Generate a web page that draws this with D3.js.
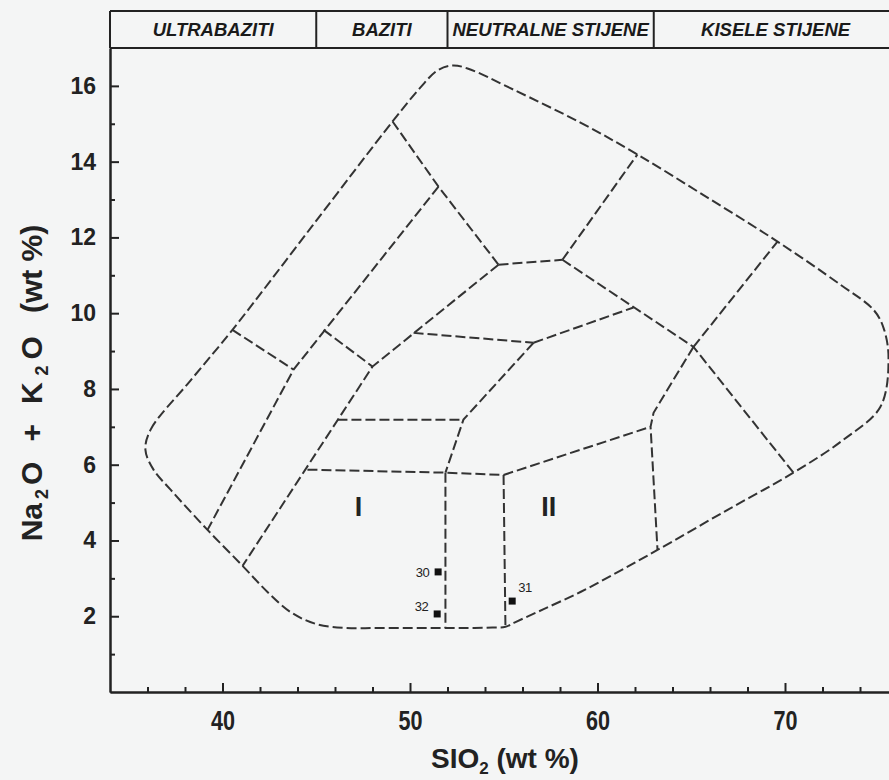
<!DOCTYPE html>
<html>
<head>
<meta charset="utf-8">
<script src="https://cdn.jsdelivr.net/npm/d3@7/dist/d3.min.js"></script>
<style>
	html, body { margin: 0; padding: 0; background: #f4f5f5; }
	svg { display: block; }
	.axis path, .axis line { stroke: #222; stroke-width: 2px; }
	.axis text { fill: #222; font-weight: bold; }
</style>
</head>
<body>
<div id="chart"></div>
<script>
	// axis ticks
	var xTicksMajor = [40, 50, 60, 70];
	var xTicksMinor = [36, 38, 42, 44, 46, 48, 52, 54, 56, 58, 62, 64, 66, 68, 72, 74];
	var yTicksMajor = [2, 4, 6, 8, 10, 12, 14, 16];
	var yTicksMinor = [1, 3, 5, 7, 9, 11, 13, 15];

	// rock groups in the header band (SiO2 limits)
	var groupLimits = [34, 45, 52, 63, 76];
	var groupNames = ["ULTRABAZITI", "BAZITI", "NEUTRALNE STIJENE", "KISELE STIJENE"];

	// outer envelope of the diagram [SiO2, Na2O+K2O]
	var outline = [
		[35.89, 6.39], [36.16, 6.92], [38.29, 8.22], [40.53, 9.56], [44.8, 12.31],
		[49.07, 15.06], [50.56, 15.96], [51.47, 16.41], [52.27, 16.54], [53.07, 16.46],
		[55.52, 15.9], [59.09, 15.03], [62.13, 14.19], [65.87, 13.05], [69.6, 11.89],
		[72.96, 10.75], [74.72, 10.09], [75.25, 9.62], [75.52, 8.82], [75.09, 7.53],
		[73.12, 6.66], [70.45, 5.79], [66.8, 4.77], [63.2, 3.75], [61.2, 3.2],
		[59.09, 2.64], [57.1, 2.18], [55.6, 1.84], [55.09, 1.72], [54.4, 1.7],
		[53.0, 1.69], [51.5, 1.69], [50.0, 1.69], [48.3, 1.69], [46.56, 1.69],
		[44.96, 1.8], [43.63, 2.11], [42.4, 2.64], [41.07, 3.33], [39.2, 4.28],
		[37.23, 5.34], [36.32, 5.87]
	];

	// inner field boundaries
	var boundaries = [
		[[49.07, 15.06], [51.52, 13.34], [54.72, 11.28]],
		[[51.52, 13.34], [43.79, 8.51], [39.2, 4.28]],
		[[40.53, 9.56], [43.79, 8.51]],
		[[54.72, 11.28], [58.13, 11.41]],
		[[58.13, 11.41], [62.13, 14.19]],
		[[58.13, 11.41], [65.12, 9.11], [70.45, 5.79]],
		[[65.12, 9.11], [69.6, 11.89]],
		[[54.72, 11.28], [48.0, 8.59], [41.07, 3.33]],
		[[45.39, 9.56], [48.0, 8.59]],
		[[50.19, 9.48], [56.59, 9.22]],
		[[56.59, 9.22], [61.92, 10.15]],
		[[56.59, 9.22], [52.85, 7.19], [51.89, 5.79]],
		[[46.13, 7.19], [52.85, 7.19]],
		[[44.53, 5.87], [51.89, 5.79], [54.99, 5.73]],
		[[51.89, 5.79], [51.89, 1.69]],
		[[54.99, 5.73], [55.09, 1.72]],
		[[54.99, 5.73], [62.83, 7.0]],
		[[65.12, 9.11], [63.89, 8.11], [62.99, 7.37], [62.83, 7.0], [63.2, 3.75]]
	];

	// field labels
	var fieldNames = ["I", "II"];
	var fieldSiO2 = [47.25, 57.4];
	var fieldAlk = [4.9, 4.9];

	// samples
	var sampleIds = ["30", "31", "32"];
	var sampleSiO2 = [51.5, 55.45, 51.45];
	var sampleAlk = [3.17, 2.4, 2.06];

	var width = 889,
		height = 780;

	var svg = d3.select("#chart")
		.append("svg")
		.attr("width", width)
		.attr("height", height);

	var x = d3.scaleLinear()
		.domain([34, 76])
		.range([110, 897.5]);

	var y = d3.scaleLinear()
		.domain([0, 17])
		.range([692, 48]);

	// header band
	var header = svg.append("g");
	header.append("line")
		.attr("x1", x(34)).attr("x2", x(76))
		.attr("y1", 11).attr("y2", 11);
	header.append("line")
		.attr("x1", x(34)).attr("x2", x(76))
		.attr("y1", 48).attr("y2", 48);
	header.selectAll(".divider")
		.data(groupLimits)
		.enter().append("line")
		.attr("class", "divider")
		.attr("x1", function(d) { return x(d); })
		.attr("x2", function(d) { return x(d); })
		.attr("y1", 11).attr("y2", 48);
	header.selectAll("line")
		.attr("stroke", "#222")
		.attr("stroke-width", 2);

	header.selectAll(".group")
		.data(groupNames)
		.enter().append("text")
		.attr("class", "group")
		.attr("x", function(d, i) { return (x(groupLimits[i]) + x(groupLimits[i + 1])) / 2; })
		.attr("y", 36)
		.attr("text-anchor", "middle")
		.style("font-family", "'Liberation Sans', Arial, sans-serif")
		.style("font-size", "18.5px")
		.style("font-weight", "bold")
		.style("font-style", "italic")
		.style("fill", "#1a1a1a")
		.text(function(d) { return d; });

	// axes (ticks point inwards)
	svg.append("g")
		.attr("class", "axis")
		.attr("transform", "translate(0,692)")
		.call(d3.axisBottom(x).tickValues(xTicksMinor).tickSizeInner(-5).tickSizeOuter(0).tickFormat(""));

	var xAxis = svg.append("g")
		.attr("class", "axis")
		.attr("transform", "translate(0,692)")
		.call(d3.axisBottom(x).tickValues(xTicksMajor).tickSizeInner(-9).tickSizeOuter(0).tickPadding(19));
	xAxis.selectAll("text")
		.attr("transform", "scale(0.8,1)")
		.style("font-family", "'Liberation Sans', Arial, sans-serif")
		.style("font-size", "27px");

	svg.append("g")
		.attr("class", "axis")
		.attr("transform", "translate(110,0)")
		.call(d3.axisLeft(y).tickValues(yTicksMinor).tickSizeInner(-5).tickSizeOuter(0).tickFormat(""));

	var yAxis = svg.append("g")
		.attr("class", "axis")
		.attr("transform", "translate(110,0)")
		.call(d3.axisLeft(y).tickValues(yTicksMajor).tickSizeInner(-9).tickSizeOuter(0).tickPadding(14));
	yAxis.selectAll("text")
		.style("font-family", "'Liberation Sans', Arial, sans-serif")
		.style("font-size", "23px");

	// axis titles
	var xTitle = svg.append("text")
		.attr("x", 505)
		.attr("y", 768)
		.attr("text-anchor", "middle")
		.style("font-family", "'Liberation Sans', Arial, sans-serif")
		.style("font-size", "28px")
		.style("font-weight", "bold")
		.style("fill", "#222");
	xTitle.append("tspan").text("SIO");
	xTitle.append("tspan").attr("dy", 6).style("font-size", "17px").text("2");
	xTitle.append("tspan").attr("dy", -6).text(" (wt %)");

	var yTitle = svg.append("text")
		.attr("transform", "translate(42,383) rotate(-90)")
		.attr("text-anchor", "middle")
		.style("font-family", "'Liberation Sans', Arial, sans-serif")
		.style("font-size", "30px")
		.style("font-weight", "bold")
		.style("fill", "#222");
	yTitle.append("tspan").text("Na");
	yTitle.append("tspan").attr("dx", 4).attr("dy", 6).style("font-size", "18px").text("2");
	yTitle.append("tspan").attr("dx", 4).attr("dy", -6).text("O");
	yTitle.append("tspan").attr("dx", 20).text("+");
	yTitle.append("tspan").attr("dx", 20).text("K");
	yTitle.append("tspan").attr("dx", 7).attr("dy", 6).style("font-size", "18px").text("2");
	yTitle.append("tspan").attr("dx", 6).attr("dy", -6).text("O");
	yTitle.append("tspan").attr("dx", 23).text("(wt %)");

	// diagram
	var outlineLine = d3.line()
		.x(function(d) { return x(d[0]); })
		.y(function(d) { return y(d[1]); })
		.curve(d3.curveCatmullRomClosed.alpha(0.5));

	var fieldLine = d3.line()
		.x(function(d) { return x(d[0]); })
		.y(function(d) { return y(d[1]); });

	svg.append("path")
		.datum(outline)
		.attr("d", outlineLine)
		.attr("fill", "none")
		.attr("stroke", "#333")
		.attr("stroke-width", 2)
		.attr("stroke-dasharray", "10,4");

	svg.selectAll(".boundary")
		.data(boundaries)
		.enter().append("path")
		.attr("class", "boundary")
		.attr("d", fieldLine)
		.attr("fill", "none")
		.attr("stroke", "#333")
		.attr("stroke-width", 2)
		.attr("stroke-dasharray", "10,4");

	svg.selectAll(".field")
		.data(fieldNames)
		.enter().append("text")
		.attr("class", "field")
		.attr("x", function(d, i) { return x(fieldSiO2[i]); })
		.attr("y", function(d, i) { return y(fieldAlk[i]) + 10; })
		.attr("text-anchor", "middle")
		.style("font-family", "'Liberation Sans', Arial, sans-serif")
		.style("font-size", "27px")
		.style("font-weight", "bold")
		.style("fill", "#222")
		.text(function(d) { return d; });

	// samples
	var labelDx = { "30": -9, "31": 6, "32": -9 };
	var labelDy = { "30": 5, "31": -9, "32": -3 };

	svg.selectAll(".sample")
		.data(sampleIds)
		.enter().append("rect")
		.attr("class", "sample")
		.attr("x", function(d, i) { return x(sampleSiO2[i]) - 3.5; })
		.attr("y", function(d, i) { return y(sampleAlk[i]) - 3.5; })
		.attr("width", 7)
		.attr("height", 7)
		.attr("fill", "#111");

	svg.selectAll(".sampleLabel")
		.data(sampleIds)
		.enter().append("text")
		.attr("class", "sampleLabel")
		.attr("x", function(d, i) { return x(sampleSiO2[i]) + labelDx[d]; })
		.attr("y", function(d, i) { return y(sampleAlk[i]) + labelDy[d]; })
		.attr("text-anchor", function(d) { return labelDx[d] < 0 ? "end" : "start"; })
		.style("font-family", "'Liberation Sans', Arial, sans-serif")
		.style("font-size", "13px")
		.style("letter-spacing", "-0.5px")
		.style("fill", "#222")
		.text(function(d) { return d; });
</script>
</body>
</html>
